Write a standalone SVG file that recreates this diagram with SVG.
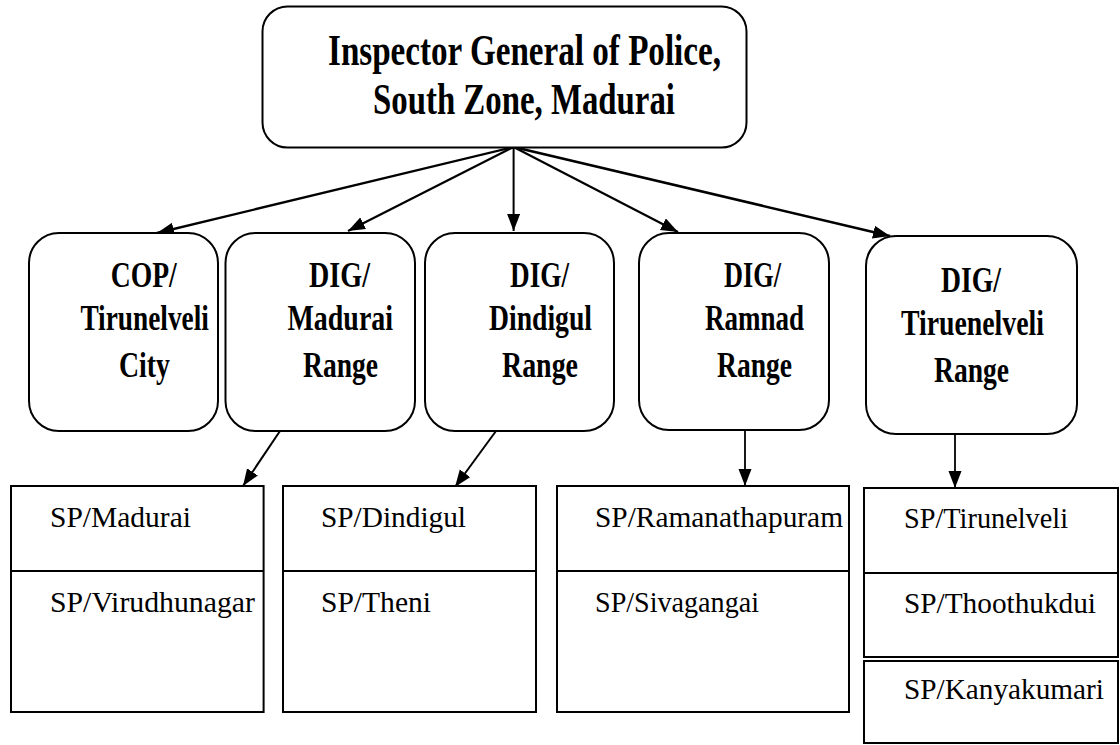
<svg xmlns="http://www.w3.org/2000/svg" width="1120" height="745" viewBox="0 0 1120 745">
<style>
.box{fill:#fff;stroke:#000;stroke-width:2}
.hd{font-family:'Liberation Serif','DejaVu Serif',serif;font-weight:bold;fill:#000;font-size:35px}
.top{font-size:45px}
.sp{font-family:'Liberation Serif','DejaVu Serif',serif;font-size:30px;fill:#000}
.con{stroke:#000;fill:none;marker-end:url(#ah)}
</style>
<defs>
<marker id="ah" markerUnits="userSpaceOnUse" markerWidth="18" markerHeight="14" refX="17" refY="6.5" orient="auto">
<path d="M0,0 L17,6.5 L0,13 z" fill="#000"/>
</marker>
</defs>
<rect width="1120" height="745" fill="#fff"/>
<g id="connectors">
<line class="con" stroke-width="2.4" x1="513.6" y1="147" x2="157" y2="233"/>
<line class="con" stroke-width="2.2" x1="513.6" y1="147" x2="348" y2="231"/>
<line class="con" stroke-width="2" x1="513.6" y1="147" x2="513.6" y2="231"/>
<line class="con" stroke-width="2.2" x1="513.6" y1="147" x2="678" y2="232"/>
<line class="con" stroke-width="2.6" x1="513.6" y1="147" x2="890" y2="236"/>
<line class="con" stroke-width="2" x1="280" y1="431" x2="243" y2="486"/>
<line class="con" stroke-width="2" x1="496" y1="431" x2="455" y2="487"/>
<line class="con" stroke-width="1.8" x1="745" y1="430" x2="745" y2="486"/>
<line class="con" stroke-width="1.8" x1="955" y1="434" x2="955" y2="488"/>
</g>
<g id="ig">
<rect class="box" x="262.5" y="6.5" width="484" height="141" rx="25"/>
<text class="hd top" x="328" y="65" textLength="393" lengthAdjust="spacingAndGlyphs">Inspector General of Police,</text>
<text class="hd top" x="373" y="114" textLength="302" lengthAdjust="spacingAndGlyphs">South Zone, Madurai</text>
</g>
<g id="cop">
<rect class="box" x="29" y="233" width="189" height="198" rx="30"/>
<text class="hd" x="110.7" y="287" textLength="66" lengthAdjust="spacingAndGlyphs">COP/</text>
<text class="hd" x="80.4" y="330" textLength="128.5" lengthAdjust="spacingAndGlyphs">Tirunelveli</text>
<text class="hd" x="119" y="377" textLength="51" lengthAdjust="spacingAndGlyphs">City</text>
</g>
<g id="dig-madurai">
<rect class="box" x="225.5" y="233" width="189.5" height="198" rx="30"/>
<text class="hd" x="309" y="287" textLength="61" lengthAdjust="spacingAndGlyphs">DIG/</text>
<text class="hd" x="287.5" y="330" textLength="105.5" lengthAdjust="spacingAndGlyphs">Madurai</text>
<text class="hd" x="303" y="377" textLength="75" lengthAdjust="spacingAndGlyphs">Range</text>
</g>
<g id="dig-dindigul">
<rect class="box" x="425" y="233" width="189" height="198" rx="30"/>
<text class="hd" x="510" y="287" textLength="59" lengthAdjust="spacingAndGlyphs">DIG/</text>
<text class="hd" x="489" y="330" textLength="103" lengthAdjust="spacingAndGlyphs">Dindigul</text>
<text class="hd" x="502" y="377" textLength="76" lengthAdjust="spacingAndGlyphs">Range</text>
</g>
<g id="dig-ramnad">
<rect class="box" x="639" y="233" width="190" height="197" rx="30"/>
<text class="hd" x="724" y="287" textLength="57" lengthAdjust="spacingAndGlyphs">DIG/</text>
<text class="hd" x="705" y="330" textLength="99" lengthAdjust="spacingAndGlyphs">Ramnad</text>
<text class="hd" x="717" y="377" textLength="75" lengthAdjust="spacingAndGlyphs">Range</text>
</g>
<g id="dig-tirunelveli">
<rect class="box" x="866" y="236" width="211" height="198" rx="30"/>
<text class="hd" x="941" y="292" textLength="60" lengthAdjust="spacingAndGlyphs">DIG/</text>
<text class="hd" x="901" y="335" textLength="143" lengthAdjust="spacingAndGlyphs">Tiruenelveli</text>
<text class="hd" x="934" y="382" textLength="75" lengthAdjust="spacingAndGlyphs">Range</text>
</g>
<g id="sp-madurai-range">
<rect class="box" x="11" y="486" width="252.6" height="226"/>
<line x1="11" y1="571" x2="263.6" y2="571" stroke="#000" stroke-width="2"/>
<text class="sp" x="50" y="527" textLength="141" lengthAdjust="spacingAndGlyphs">SP/Madurai</text>
<text class="sp" x="50" y="612" textLength="205" lengthAdjust="spacingAndGlyphs">SP/Virudhunagar</text>
</g>
<g id="sp-dindigul-range">
<rect class="box" x="283" y="486" width="253" height="226"/>
<line x1="283" y1="571" x2="536" y2="571" stroke="#000" stroke-width="2"/>
<text class="sp" x="321" y="527" textLength="145" lengthAdjust="spacingAndGlyphs">SP/Dindigul</text>
<text class="sp" x="321" y="612" textLength="110" lengthAdjust="spacingAndGlyphs">SP/Theni</text>
</g>
<g id="sp-ramnad-range">
<rect class="box" x="557" y="486" width="292" height="226"/>
<line x1="557" y1="571" x2="849" y2="571" stroke="#000" stroke-width="2"/>
<text class="sp" x="595" y="527" textLength="248" lengthAdjust="spacingAndGlyphs">SP/Ramanathapuram</text>
<text class="sp" x="595" y="612" textLength="164" lengthAdjust="spacingAndGlyphs">SP/Sivagangai</text>
</g>
<g id="sp-tirunelveli-range">
<rect class="box" x="864" y="488" width="254" height="169"/>
<line x1="864" y1="573" x2="1118" y2="573" stroke="#000" stroke-width="2"/>
<rect class="box" x="864" y="661" width="254" height="82"/>
<text class="sp" x="904" y="528" textLength="164" lengthAdjust="spacingAndGlyphs">SP/Tirunelveli</text>
<text class="sp" x="904" y="613" textLength="192" lengthAdjust="spacingAndGlyphs">SP/Thoothukdui</text>
<text class="sp" x="904" y="699" textLength="200" lengthAdjust="spacingAndGlyphs">SP/Kanyakumari</text>
</g>
</svg>
